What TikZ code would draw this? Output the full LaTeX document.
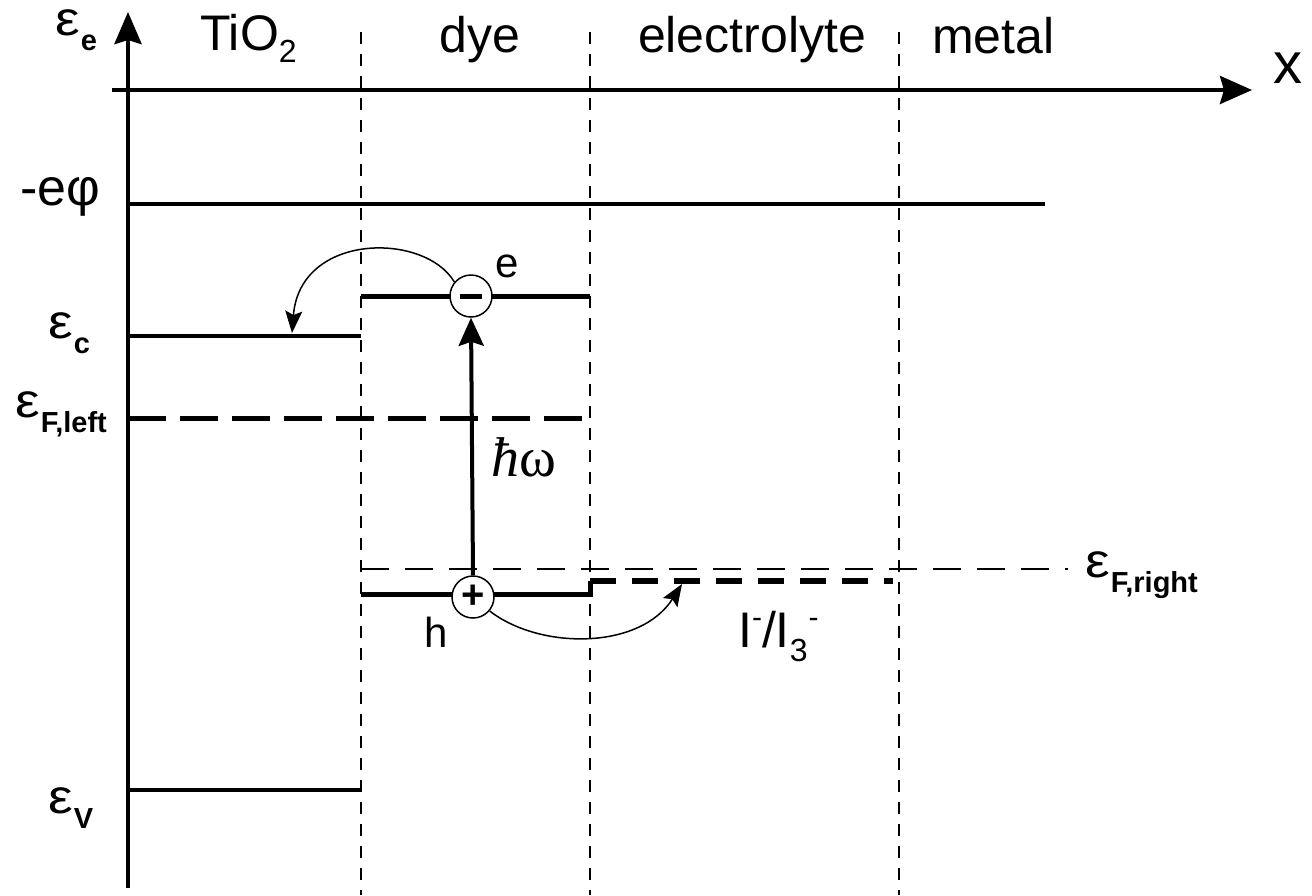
\documentclass[tikz,border=0pt]{standalone}
\usepackage{fontspec}
\usepackage{graphicx}
\setmainfont{Liberation Sans}
\newfontfamily\serifhw{Liberation Serif}
\usetikzlibrary{arrows.meta}
\newcommand\eps[1]{{\fontsize{48}{48}\selectfont\scalebox{1.15}[1]{ε}}\kern1pt\raisebox{-15pt}{\fontsize{29}{29}\selectfont\bfseries #1}}
\newcommand\supm{\raisebox{20pt}{\fontsize{30}{30}\selectfont -}}
\tikzset{
  lbl/.style={inner sep=0pt, font=\fontsize{50}{54}\selectfont},
  axis/.style={line width=4.5pt},
  level/.style={line width=4pt},
  dyelevel/.style={line width=5pt},
  border/.style={line width=1.8pt, dash pattern=on 12pt off 10pt},
  fermiL/.style={line width=5pt, dash pattern=on 38pt off 14pt},
  fermiR/.style={line width=1.8pt, dash pattern=on 28pt off 16pt},
  redox/.style={line width=5.5pt, dash pattern=on 26pt off 16pt},
  charge/.style={circle, draw, line width=1.5pt, fill=white, minimum size=42pt, inner sep=0pt},
  curvearrow/.style={line width=1.5pt, -{Stealth[length=22pt,width=17pt,inset=4pt]}},
}
\begin{document}
\begin{tikzpicture}[x=1pt,y=-1pt]
\useasboundingbox (0,0) rectangle (1312,895);
% region borders
\foreach \xx/\nm in {361/bA,590/bB,899/bC}{
  \coordinate (\nm top) at (\xx,32);
  \coordinate (\nm bot) at (\xx,895);
  \draw[border] (\nm top) -- (\nm bot);
}
% axes
\coordinate (yb) at (128,888);
\coordinate (yt) at (128,12);
\coordinate (xl) at (112,90);
\coordinate (xr) at (1252,90);
\draw[axis,-{Stealth[length=32pt,width=27pt,inset=4pt]}] (yb) -- (yt);
\draw[line width=4pt,-{Stealth[length=32pt,width=28pt,inset=4pt]}] (xl) -- (xr);
\node[lbl, anchor=base west, font=\fontsize{58}{58}\selectfont] (xlab) at (1273,83) {x};
% region labels
\node[lbl, anchor=base west] (tio2) at (200,50) {TiO\raisebox{-12pt}{\fontsize{32}{32}\selectfont 2}};
\node[lbl, anchor=base] (dye) at (480,52) {dye};
\node[lbl, anchor=base] (elec) at (752,52) {electrolyte};
\node[lbl, anchor=base west] (metal) at (932,53) {metal};
% energy labels
\node[lbl, anchor=base west] (Le) at (55,35) {\eps{e}};
\node[lbl, anchor=base west, font=\fontsize{52}{52}\selectfont] (Lphi) at (20,205) {-eφ};
\node[lbl, anchor=base west] (Lc) at (48,338) {\eps{c}};
\node[lbl, anchor=base west] (LF) at (15,417) {\eps{F,left}};
\node[lbl, anchor=base west] (Lv) at (48,813) {\eps{V}};
\node[lbl, anchor=base west] (LFr) at (1085,577) {\eps{F,right}};
% levels
\coordinate (phiA) at (128,204); \coordinate (phiB) at (1045,204);
\draw[level] (phiA) -- (phiB);
\coordinate (cA) at (128,336); \coordinate (cB) at (361,336);
\draw[level] (cA) -- (cB);
\coordinate (vA) at (128,790); \coordinate (vB) at (361,790);
\draw[level] (vA) -- (vB);
\coordinate (fA) at (128,418); \coordinate (fB) at (592,418);
\draw[fermiL] (fA) -- (fB);
\coordinate (frA) at (361,569); \coordinate (frB) at (1068,569);
\draw[fermiR] (frA) -- (frB);
% dye levels
\coordinate (luA) at (361,296); \coordinate (luB) at (590,296);
\draw[dyelevel] (luA) -- (luB);
\coordinate (hoA) at (361,594); \coordinate (hoB) at (590,594); \coordinate (hoC) at (590,581);
\draw[dyelevel] (hoA) -- (hoB) -- (hoC);
\coordinate (rdA) at (590,581); \coordinate (rdB) at (893,581);
\draw[redox] (rdA) -- (rdB);
% charges
\node[charge] (em) at (471,296) {\rule[-2.5pt]{22pt}{5pt}};
\node[charge] (hp) at (473,597) {\fontsize{40}{40}\selectfont\bfseries +};
% photon arrow
\draw[line width=4pt,-{Stealth[length=28pt,width=25pt,inset=4pt]}] (hp.north) -- (em.south);
\node[lbl, anchor=base west, font=\fontsize{56}{56}\selectfont\serifhw] (hw) at (491,476) {\textit{ħ}ω};
% transfer arrows
\coordinate (inj) at (292,333);
\draw[curvearrow] (em.140) .. controls (425,232) and (300,232) .. (inj);
\coordinate (red) at (682,584);
\draw[curvearrow] (hp.-40) .. controls (540,650) and (640,650) .. (red);
% carrier labels
\node[lbl, anchor=base west, font=\fontsize{42}{42}\selectfont] (elab) at (495,277) {e};
\node[lbl, anchor=base west, font=\fontsize{42}{42}\selectfont] (hlab) at (424,647) {h};
\node[lbl, anchor=base west] (redlab) at (738,647) {I\supm/I\raisebox{-14pt}{\fontsize{32}{32}\selectfont 3}\kern1pt\supm};
\end{tikzpicture}
\end{document}
